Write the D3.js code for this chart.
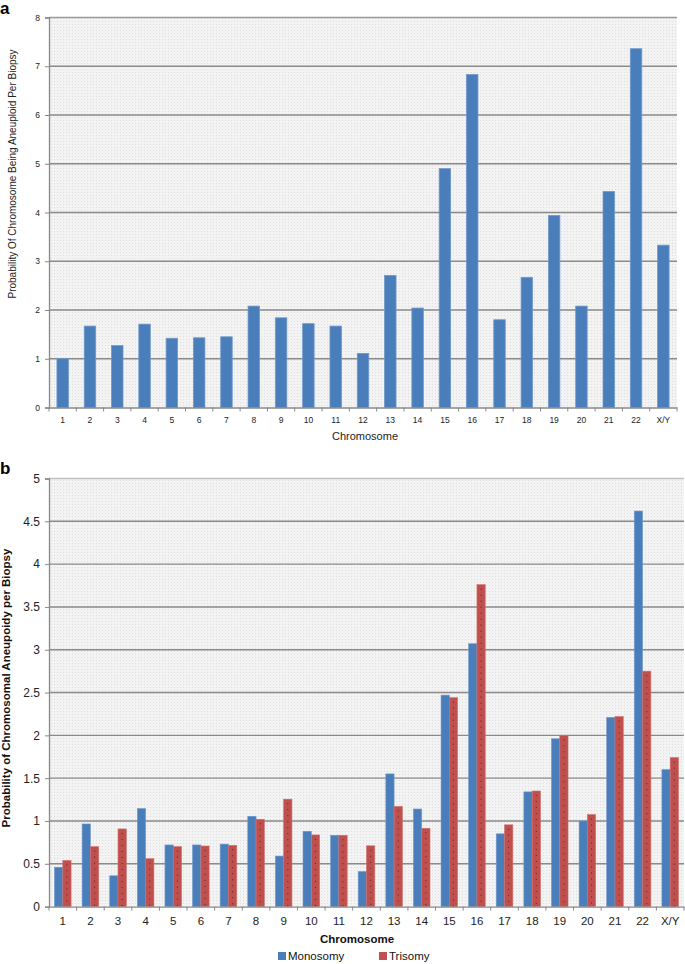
<!DOCTYPE html>
<html><head><meta charset="utf-8">
<script src="https://cdn.jsdelivr.net/npm/d3@7/dist/d3.min.js"></script>
<style>
body{margin:0;background:#fff;}
svg{display:block;font-family:"Liberation Sans",Arial,sans-serif;}
</style></head>
<body>
<svg id="chart" width="685" height="964"></svg>
<script>
const categories = ["1","2","3","4","5","6","7","8","9","10","11","12","13","14","15","16","17","18","19","20","21","22","X/Y"];
const probAneuploid = [1.0,1.67,1.27,1.71,1.42,1.43,1.45,2.08,1.84,1.72,1.67,1.11,2.71,2.04,4.9,6.83,1.8,2.67,3.94,2.08,4.43,7.36,3.33];
const monosomy = [0.46,0.965,0.36,1.145,0.72,0.72,0.73,1.055,0.59,0.88,0.833,0.41,1.55,1.14,2.47,3.07,0.85,1.34,1.96,1.0,2.21,4.62,1.60];
const trisomy  = [0.54,0.70,0.907,0.56,0.70,0.708,0.716,1.02,1.255,0.837,0.833,0.71,1.17,0.915,2.44,3.76,0.955,1.35,2.0,1.075,2.22,2.75,1.74];
const ticksA = [0,1,2,3,4,5,6,7,8];
const ticksB = [0,0.5,1,1.5,2,2.5,3,3.5,4,4.5,5];
const seriesNames = ["Monosomy","Trisomy"];

const BLUE = "#4a7ebb", RED = "#c0504d";
const svg = d3.select("#chart");

const defs = svg.append("defs");
const pat = defs.append("pattern").attr("id","dots").attr("width",3).attr("height",3).attr("patternUnits","userSpaceOnUse");
pat.append("rect").attr("width",3).attr("height",3).attr("fill","#f3f3f3");
pat.append("rect").attr("width",1).attr("height",1).attr("fill","#dedede");

// ---------- Chart a ----------
{
  const L=49, R=677, T=17.5, B=407.5;
  const x = d3.scaleBand().domain(categories).range([L,R]).paddingInner(0.58).paddingOuter(0.29);
  const xb = d3.scaleBand().domain(categories).range([L,R]);
  const y = d3.scaleLinear().domain([0,8]).range([B,T]);
  const g = svg.append("g");
  g.append("rect").attr("x",L).attr("y",T).attr("width",R-L).attr("height",B-T).attr("fill","url(#dots)");
  g.selectAll(".grid").data(ticksA.filter(d=>d>0)).join("line")
    .attr("x1",L).attr("x2",R).attr("y1",d=>y(d)).attr("y2",d=>y(d))
    .attr("stroke",d=>d===8?"#9a9a9a":"#8a8a8a").attr("stroke-width",1.4);
  g.selectAll(".bar").data(probAneuploid).join("rect")
    .attr("x",(d,i)=>x(categories[i])).attr("width",x.bandwidth())
    .attr("y",d=>y(d)).attr("height",d=>B-y(d))
    .attr("fill",BLUE).attr("stroke","#6f98cc").attr("stroke-width",0.8);
  const ya = d3.axisLeft(y).tickValues(ticksA).tickSize(4).tickFormat(d3.format("d"));
  const gy = g.append("g").attr("transform",`translate(${L},0)`).call(ya);
  gy.select(".domain").attr("stroke","#888").attr("stroke-width",1.3);
  gy.selectAll(".tick line").attr("stroke","#888");
  gy.selectAll("text").attr("font-size",8.5).attr("fill","#222").attr("x",-9);
  const xa = d3.axisBottom(xb).tickSize(0);
  const gx = g.append("g").attr("transform",`translate(0,${B})`).call(xa);
  gx.select(".domain").attr("stroke","#888").attr("stroke-width",1.3);
  gx.selectAll("text").attr("font-size",8.5).attr("fill","#222").attr("dy","0.71em").attr("y",9);
  g.selectAll(".xt").data(categories.concat(["_end"])).join("line")
    .attr("x1",(d,i)=>L+i*xb.step()).attr("x2",(d,i)=>L+i*xb.step())
    .attr("y1",B).attr("y2",B+4).attr("stroke","#888");
  g.append("text").attr("x",365).attr("y",440).attr("text-anchor","middle").attr("font-size",11).attr("fill","#222").text("Chromosome");
  g.append("text").attr("transform",`translate(16,174) rotate(-90)`).attr("text-anchor","middle").attr("font-size",10).attr("fill","#222")
    .text("Probability Of Chromosome Being Aneuploid Per Biopsy");
  svg.append("text").attr("x",0).attr("y",14).attr("font-size",17).attr("font-weight","bold").attr("fill","#000").text("a");
}

// ---------- Chart b ----------
{
  const L=49, R=684, T=478.5, B=906.6;
  const x0 = d3.scaleBand().domain(categories).range([L,R]).paddingInner(0.4).paddingOuter(0.2);
  const xb = d3.scaleBand().domain(categories).range([L,R]);
  const x1 = d3.scaleBand().domain(seriesNames).range([0,x0.bandwidth()]);
  const y = d3.scaleLinear().domain([0,5]).range([B,T]);
  const g = svg.append("g");
  g.append("rect").attr("x",L).attr("y",T).attr("width",R-L).attr("height",B-T).attr("fill","url(#dots)");
  g.selectAll(".grid").data(ticksB.filter(d=>d>0)).join("line")
    .attr("x1",L).attr("x2",R).attr("y1",d=>y(d)).attr("y2",d=>y(d))
    .attr("stroke",d=>d===5?"#c0c0c0":"#8a8a8a").attr("stroke-width",1.4);
  const data = categories.map((c,i)=>({c, vals:[{s:"Monosomy",v:monosomy[i]},{s:"Trisomy",v:trisomy[i]}]}));
  const grp = g.selectAll(".grp").data(data).join("g").attr("transform",d=>`translate(${x0(d.c)},0)`);
  grp.selectAll("rect").data(d=>d.vals).join("rect")
    .attr("x",d=>x1(d.s)).attr("width",x1.bandwidth())
    .attr("y",d=>y(d.v)).attr("height",d=>B-y(d.v))
    .attr("fill",d=>d.s==="Monosomy"?BLUE:RED)
    .attr("stroke",d=>d.s==="Monosomy"?"#6f98cc":"#d0706d").attr("stroke-width",0.6);
  grp.selectAll("line.dot").data(d=>d.vals.filter(v=>v.s==="Trisomy")).join("line")
    .attr("x1",d=>x1(d.s)+x1.bandwidth()/2).attr("x2",d=>x1(d.s)+x1.bandwidth()/2)
    .attr("y1",d=>y(d.v)+4).attr("y2",B)
    .attr("stroke","#4a2020").attr("stroke-width",0.9).attr("stroke-dasharray","1,5");
  const ya = d3.axisLeft(y).tickValues(ticksB).tickSize(4).tickFormat(d=>String(d));
  const gy = g.append("g").attr("transform",`translate(${L},0)`).call(ya);
  gy.select(".domain").attr("stroke","#888").attr("stroke-width",1.3);
  gy.selectAll(".tick line").attr("stroke","#888");
  gy.selectAll("text").attr("font-size",12).attr("fill","#222").attr("x",-9);
  const xa = d3.axisBottom(xb).tickSize(0);
  const gx = g.append("g").attr("transform",`translate(0,${B})`).call(xa);
  gx.select(".domain").attr("stroke","#888").attr("stroke-width",1.3);
  gx.selectAll("text").attr("font-size",11.5).attr("fill","#222").attr("dy","0.71em").attr("y",10);
  g.selectAll(".xt").data(categories.concat(["_end"])).join("line")
    .attr("x1",(d,i)=>L+i*xb.step()).attr("x2",(d,i)=>L+i*xb.step())
    .attr("y1",B).attr("y2",B+4).attr("stroke","#888");
  g.append("text").attr("x",357).attr("y",943).attr("text-anchor","middle").attr("font-size",11.5).attr("font-weight","bold").attr("fill","#111").text("Chromosome");
  g.append("text").attr("transform",`translate(10,688) rotate(-90)`).attr("text-anchor","middle").attr("font-size",11.5).attr("font-weight","bold").attr("fill","#111")
    .text("Probability of Chromosomal Aneupoidy per Biopsy");
  svg.append("text").attr("x",0).attr("y",474).attr("font-size",17).attr("font-weight","bold").attr("fill","#000").text("b");
  const legX = [278, 379];
  const lg = svg.selectAll(".leg").data(seriesNames).join("g").attr("transform",(d,i)=>`translate(${legX[i]},952)`);
  lg.append("rect").attr("width",8).attr("height",8).attr("fill",(d,i)=>i===0?BLUE:RED);
  lg.append("text").attr("x",10).attr("y",8).attr("font-size",11.5).attr("fill","#111").text(d=>d);
}
</script>
</body></html>
